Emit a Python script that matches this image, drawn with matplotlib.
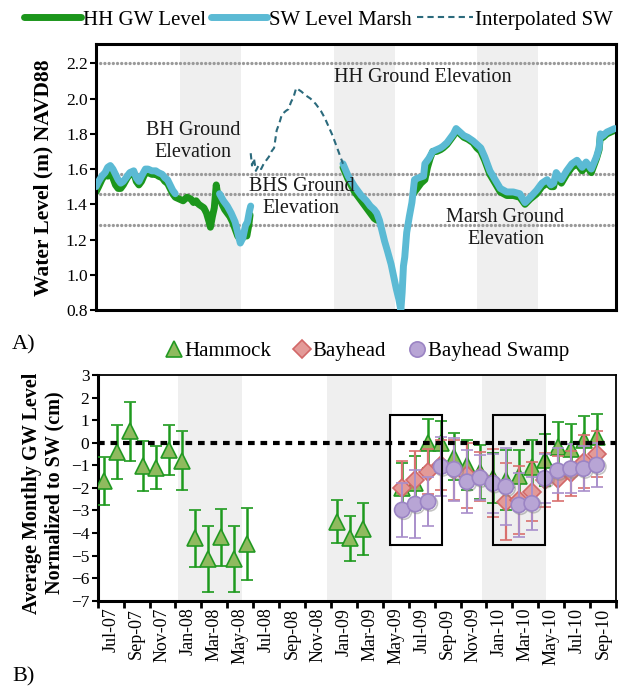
import numpy as np
import matplotlib
matplotlib.use("Agg")
import matplotlib.pyplot as plt
from matplotlib.lines import Line2D
from matplotlib.patches import Rectangle
import matplotlib.patheffects as pe

plt.rcParams["font.family"] = ["Liberation Serif", "DejaVu Serif"]

# ---- panel A: water levels, x = months since 1 Jul 2007 ----
gw_m = [0.0, 0.2, 0.45, 0.7, 0.9, 1.1, 1.3, 1.5, 1.7, 1.9, 2.1, 2.4, 2.6, 2.9, 3.1, 3.3, 3.5, 3.8,
        4.0, 4.3, 4.6, 4.8, 5.1, 5.3, 5.5, 5.7, 5.9, 6.1, 6.4, 6.7, 7.0, 7.3, 7.5, 7.7, 7.9, 8.1,
        8.3, 8.5, 8.7, 8.8, 8.95, 9.1, 9.25, 9.35, 9.5, 9.7, 9.9, 10.1, 10.3, 10.5, 10.7, 10.9,
        11.1, 11.3, 11.5, 11.6, 11.75, 11.85, None,
        19.0, 19.4, 19.9, 20.4, 20.8, 21.1, 21.4, 21.6, None,
        24.4, 24.7, 25.0, 25.3, 25.5, 25.7, 25.9, 26.2, 26.5, 26.7, 27.0, 27.2, 27.5, 27.7, 28.0,
        28.3, 28.6, 29.0, 29.3, 29.6, 29.9, 30.3, 30.7, 31.1, 31.6, 32.1, 32.6, 33.0, 33.4, 33.9,
        34.3, 34.7, 35.0, 35.2, 35.4, 35.8, 36.2, 36.6, 37.0, 37.4, 37.7, 38.1, 38.5, 38.7, 38.8,
        39.0, 39.3, 39.6, 39.9]
gw_v = [1.47, 1.50, 1.54, 1.57, 1.56, 1.57, 1.55, 1.51, 1.49, 1.49, 1.51, 1.55, 1.57, 1.58, 1.53,
        1.51, 1.53, 1.58, 1.58, 1.57, 1.57, 1.56, 1.55, 1.53, 1.52, 1.49, 1.46, 1.44, 1.43, 1.42,
        1.44, 1.43, 1.41, 1.42, 1.40, 1.39, 1.38, 1.35, 1.30, 1.27, 1.33, 1.38, 1.51, 1.46, 1.44,
        1.40, 1.37, 1.35, 1.33, 1.30, 1.26, 1.22, 1.20, 1.21, 1.25, 1.22, 1.28, 1.34, None,
        1.61, 1.54, 1.47, 1.42, 1.38, 1.35, 1.32, 1.31, None,
        1.46, 1.49, 1.52, 1.54, 1.61, 1.66, 1.70, 1.70, 1.71, 1.72, 1.74, 1.76, 1.79, 1.82, 1.80,
        1.78, 1.77, 1.75, 1.72, 1.70, 1.65, 1.57, 1.52, 1.47, 1.45, 1.45, 1.44, 1.40, 1.43, 1.46,
        1.50, 1.52, 1.50, 1.50, 1.56, 1.52, 1.57, 1.61, 1.63, 1.59, 1.62, 1.58, 1.66, 1.71, 1.79,
        1.78, 1.80, 1.81, 1.82]

sw_m = [0.0, 0.2, 0.45, 0.7, 0.9, 1.1, 1.3, 1.5, 1.7, 1.9, 2.1, 2.4, 2.6, 2.9, 3.1, 3.3, 3.5, 3.8,
        4.0, 4.3, 4.6, 4.8, 5.1, 5.3, 5.5, 5.7, 5.9, 6.1, None,
        9.5, 9.8, 10.1, 10.4, 10.7, 10.9, 11.1, 11.3, 11.5, 11.65, 11.8, 11.9, None,
        19.0, 19.4, 19.9, 20.4, 20.8, 21.1, 21.4, 21.6, 21.8, 22.0, 22.2, 22.4, 22.7, 22.9, 23.1,
        23.3, 23.45, 23.55, 23.65, 23.75, 23.9, 24.1, 24.3, 24.5, 24.8, 25.2, 25.3, 25.6, 25.9,
        26.2, 26.5, 26.7, 27.0, 27.2, 27.5, 27.7, 28.0, 28.3, 28.6, 29.0, 29.3, 29.6, 29.9, 30.3,
        30.7, 31.1, 31.6, 32.1, 32.6, 33.0, 33.4, 33.9, 34.3, 34.7, 35.0, 35.2, 35.4, 35.8, 36.2,
        36.6, 37.0, 37.4, 37.7, 38.1, 38.5, 38.7, 38.8, 39.0, 39.3, 39.6, 39.9]
sw_v = [1.50, 1.53, 1.56, 1.58, 1.61, 1.62, 1.60, 1.57, 1.54, 1.52, 1.53, 1.56, 1.58, 1.59, 1.55,
        1.53, 1.56, 1.60, 1.60, 1.59, 1.59, 1.58, 1.57, 1.55, 1.54, 1.51, 1.48, 1.46, None,
        1.46, 1.42, 1.39, 1.35, 1.30, 1.24, 1.18, 1.21, 1.28, 1.30, 1.36, 1.39, None,
        1.63, 1.56, 1.50, 1.45, 1.42, 1.39, 1.37, 1.35, 1.31, 1.25, 1.19, 1.14, 1.06, 0.99, 0.92,
        0.86, 0.80, 0.90, 1.05, 1.10, 1.24, 1.33, 1.41, 1.54, 1.55, 1.56, 1.63, 1.66, 1.70,
        1.71, 1.72, 1.73, 1.75, 1.77, 1.80, 1.83, 1.81, 1.79, 1.78, 1.76, 1.74, 1.72, 1.67, 1.59,
        1.54, 1.49, 1.47, 1.47, 1.46, 1.41, 1.44, 1.48, 1.52, 1.54, 1.51, 1.52, 1.58, 1.54, 1.59,
        1.63, 1.65, 1.61, 1.64, 1.60, 1.67, 1.72, 1.80, 1.79, 1.81, 1.82, 1.83]

interp_m = [11.9, 12.0, 12.15, 12.3, 12.5, 12.7, 12.9, 13.1, 13.3, 13.5, 13.7, 13.9, 14.1, 14.3,
            14.6, 14.8, 15.0, 15.2, 15.4, 15.6, 15.8, 16.1, 16.5, 16.9, 17.3, 17.6, 17.9, 18.2,
            18.5, 18.8, 19.0]
interp_v = [1.69, 1.62, 1.66, 1.59, 1.62, 1.60, 1.63, 1.65, 1.67, 1.70, 1.72, 1.82, 1.86, 1.91,
            1.93, 1.94, 1.98, 2.01, 2.06, 2.05, 2.04, 2.02, 2.00, 1.97, 1.93, 1.89, 1.84, 1.79,
            1.73, 1.67, 1.63]

ground_elev = [2.20, 1.57, 1.46, 1.28]
ground_names = ["HH Ground Elevation", "BH Ground\nElevation", "BHS Ground\nElevation",
                "Marsh Ground\nElevation"]

# ---- panel B: monthly GW - SW (cm), Jul-07 .. Oct-10 ----
month_labels = ["Jul-07", "Sep-07", "Nov-07", "Jan-08", "Mar-08", "May-08", "Jul-08", "Sep-08",
                "Nov-08", "Jan-09", "Mar-09", "May-09", "Jul-09", "Sep-09", "Nov-09", "Jan-10",
                "Mar-10", "May-10", "Jul-10", "Sep-10"]
N = None
hammock = [-1.70, -0.40, 0.50, -1.03, -1.10, -0.32, -0.80, -4.24, -5.15, -4.19, -5.15, -4.49,
           N, N, N, N, N, N, -3.50, -4.24, -3.82, N, N, -2.00, -1.80, -0.03, -0.03, -0.62, -0.99,
           -1.28, -1.55, -1.65, -1.48, -1.06, -0.77, -0.20, -0.26, 0.12, 0.24, N]
hammock_err = [1.05, 1.2, 1.3, 1.1, 0.95, 1.1, 1.3, 1.27, 1.45, 1.27, 1.45, 1.6,
               N, N, N, N, N, N, 0.95, 1.0, 1.15, N, N, 1.1, 1.2, 1.07, 1.0, 1.04, 1.1,
               1.2, 1.1, 1.33, 1.15, 1.2, 1.15, 1.1, 1.1, 1.05, 1.05, N]
bayhead = [N] * 23 + [-2.02, -1.65, -1.28, -1.00, -1.21, -1.45, -1.50, -1.80, -2.61, -2.55,
                      -2.17, -1.65, -1.60, -1.36, -0.84, -0.50, N]
bayhead_err = [N] * 23 + [1.2, 1.3, 1.0, 1.1, 1.33, 1.45, 1.1, 1.5, 1.7, 1.5,
                          1.3, 1.2, 1.0, 1.0, 1.18, 1.03, N]
swamp = [N] * 23 + [-2.98, -2.72, -2.61, -1.06, -1.18, -1.73, -1.55, -1.80, -1.95, -2.76,
                    -2.69, -1.58, -1.24, -1.15, -1.15, -0.99, N]
swamp_err = [N] * 23 + [1.18, 1.5, 1.1, 1.3, 1.4, 1.4, 1.0, 1.3, 1.7, 1.4,
                        1.18, 1.1, 1.0, 1.1, 1.0, 0.96, N]


def arr(v):
    return np.array([np.nan if x is None else x for x in v], dtype=float)


fig = plt.figure(figsize=(6.19, 6.87), dpi=100)
W, H = 619, 687
ax1 = fig.add_axes([96 / W, 1 - 310 / H, 520 / W, 266 / H])
ax2 = fig.add_axes([97.7 / W, 1 - 600.7 / H, 518.3 / W, 225.7 / H])

band_col = "#efefef"
for a, b in [(6.45, 11.15), (18.3, 23.0), (29.3, 34.0)]:
    ax1.axvspan(a, b, color=band_col, lw=0, zorder=0)

for y in ground_elev:
    ax1.axhline(y, color="#9a9a9a", lw=2.4, ls=(0, (0.01, 1.25)), dash_capstyle="round", zorder=1)

ax1.plot(arr(gw_m), arr(gw_v), color="#1c961c", lw=5, solid_capstyle="round", zorder=2)
ax1.plot(arr(sw_m), arr(sw_v), color="#5bbad4", lw=5, solid_capstyle="round", zorder=3)
ax1.plot(interp_m, interp_v, color="#2b6a7c", lw=1.5, ls=(0, (3, 2)), zorder=3)

txt_kw = dict(fontsize=14.5, color="#1a1a1a", ha="center", va="center", zorder=4)
ax1.text(25.1, 2.12, ground_names[0], **txt_kw)
ax1.text(7.46, 1.755, ground_names[1], **txt_kw)
ax1.text(15.8, 1.44, ground_names[2], **txt_kw)
ax1.text(31.5, 1.262, ground_names[3], **txt_kw)

ax1.set_xlim(0, 40)
ax1.set_ylim(0.8, 2.31)
ax1.set_yticks(np.arange(0.8, 2.21, 0.2))
ax1.set_yticklabels([f"{t:.1f}" for t in np.arange(0.8, 2.21, 0.2)])
ax1.set_xticks([])
ax1.tick_params(axis="y", direction="out", length=4, width=1.5, labelsize=12.5, pad=2)
for s in ax1.spines.values():
    s.set_linewidth(2.2)

fig.text(43 / W, 1 - 178 / H, "Water Level (m) NAVD88", rotation=90, fontsize=15.5,
         fontweight="bold", ha="center", va="center")

leg1 = [Line2D([], [], color="#1c961c", lw=5, solid_capstyle="round"),
        Line2D([], [], color="#5bbad4", lw=5, solid_capstyle="round"),
        Line2D([], [], color="#2b6a7c", lw=1.5, ls=(0, (3, 2)))]
fig.legend(leg1, ["HH GW Level", "SW Level Marsh", "Interpolated SW"], loc="center",
           bbox_to_anchor=(0.515, 1 - 20 / H), ncol=3, frameon=False, fontsize=15,
           handlelength=2.7, handletextpad=0.1, columnspacing=0.25, borderpad=0.1)

# ---- panel B ----
for a, b in [(6.17, 11.12), (17.72, 22.68), (29.63, 34.57)]:
    ax2.axvspan(a, b, color=band_col, lw=0, zorder=0)

x = np.arange(40) + 0.5
shadow = [pe.SimpleLineShadow(offset=(1.2, -1.2), shadow_color="#888888", alpha=0.5), pe.Normal()]
ax2.errorbar(x, arr(hammock), yerr=arr(hammock_err), fmt="^", ms=11, mfc="#8fba5e",
             mec="#229922", mew=1.2, ecolor="#1e9a1e", elinewidth=1.8, capsize=4.5,
             capthick=1.8, zorder=3)
ax2.errorbar(x, arr(bayhead), yerr=arr(bayhead_err), fmt="D", ms=9.5, mfc="#e39a98",
             mec="#d26868", mew=1.2, ecolor="#d9706e", elinewidth=1.6, capsize=4.5,
             capthick=1.6, zorder=4)
eb = ax2.errorbar(x, arr(swamp), yerr=arr(swamp_err), fmt="o", ms=11, mfc="#b8a5d5",
                  mec="#9b84c4", mew=1.2, ecolor="#a98fcb", elinewidth=1.4, capsize=4.5,
                  capthick=1.4, zorder=5)
eb[0].set_path_effects(shadow)

ax2.axhline(0, color="black", lw=3, ls=(0, (1.6, 1.4)), zorder=6)

for x0, x1 in [(22.55, 26.56), (30.5, 34.5)]:
    ax2.add_patch(Rectangle((x0, -4.55), x1 - x0, 5.78, fill=False, ec="black", lw=1.5,
                            zorder=7))

ax2.set_xlim(0, 40)
ax2.set_ylim(-7, 3)
ax2.set_yticks(range(-7, 4))
ax2.set_xticks(range(0, 41, 2))
ax2.set_xticklabels([])
ax2.set_xticks(np.arange(1, 40, 2), minor=True)
ax2.set_xticklabels(month_labels, minor=True, rotation=90, fontsize=13)
ax2.tick_params(axis="x", which="major", direction="out", length=5, width=2)
ax2.tick_params(axis="x", which="minor", length=0, pad=5)
ax2.tick_params(axis="y", direction="out", length=4, width=1.5, labelsize=12.5, pad=2)
ax2.spines["left"].set_linewidth(2.2)
ax2.spines["bottom"].set_linewidth(2.2)
ax2.spines["top"].set_linewidth(1.3)
ax2.spines["right"].set_linewidth(1.3)

fig.text(43 / W, 1 - 493 / H, "Average Monthly GW Level\nNormalized to SW (cm)", rotation=90,
         fontsize=14.5, fontweight="bold", ha="center", va="center", linespacing=1.15)

leg2 = [Line2D([], [], ls="none", marker="^", ms=11, mfc="#8fba5e", mec="#229922", mew=1.2),
        Line2D([], [], ls="none", marker="D", ms=9.5, mfc="#e39a98", mec="#d26868", mew=1.2),
        Line2D([], [], ls="none", marker="o", ms=11, mfc="#b8a5d5", mec="#9b84c4", mew=1.2)]
fig.legend(leg2, ["Hammock", "Bayhead", "Bayhead Swamp"], loc="center",
           bbox_to_anchor=(0.593, 1 - 351 / H), ncol=3, frameon=False, fontsize=15,
           handlelength=0.8, handletextpad=0.1, columnspacing=1.1, borderpad=0.1)

fig.text(12 / W, 1 - 345 / H, "A)", fontsize=16, ha="left", va="center")
fig.text(12 / W, 1 - 677 / H, "B)", fontsize=16, ha="left", va="center")

fig.savefig("out.png", dpi=100)
